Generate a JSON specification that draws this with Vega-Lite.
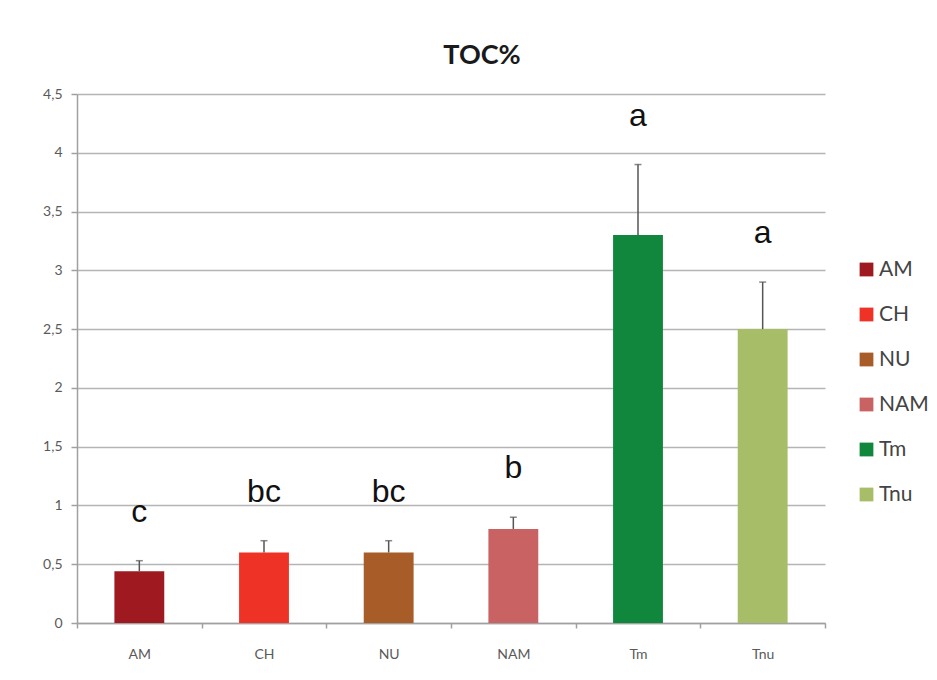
{
  "$schema": "https://vega.github.io/schema/vega-lite/v6.json",
  "width": 748,
  "height": 529,
  "autosize": {"type": "none"},
  "padding": {"left": 77, "top": 94, "right": 112, "bottom": 57},
  "background": "#ffffff",
  "title": {
    "text": "TOC%",
    "font": "Lato",
    "fontSize": 27,
    "fontWeight": "bold",
    "color": "#1a1a1a",
    "anchor": "middle",
    "frame": "group",
    "dx": 31,
    "offset": 17
  },
  "data": {
    "values": [
      {"treatment": "AM", "toc": 0.44, "upper": 0.53, "letter": "c"},
      {"treatment": "CH", "toc": 0.60, "upper": 0.70, "letter": "bc"},
      {"treatment": "NU", "toc": 0.60, "upper": 0.70, "letter": "bc"},
      {"treatment": "NAM", "toc": 0.80, "upper": 0.90, "letter": "b"},
      {"treatment": "Tm", "toc": 3.30, "upper": 3.90, "letter": "a"},
      {"treatment": "Tnu", "toc": 2.50, "upper": 2.90, "letter": "a"}
    ]
  },
  "encoding": {
    "x": {
      "field": "treatment",
      "type": "nominal",
      "sort": null,
      "scale": {"paddingInner": 0, "paddingOuter": 0},
      "axis": {
        "title": null,
        "labelAngle": 0,
        "labelFont": "Lato",
        "labelFontSize": 14,
        "labelColor": "#5a5a5a",
        "labelPadding": 19,
        "tickBand": "extent",
        "tickSize": 5,
        "tickColor": "#a0a0a0",
        "tickWidth": 1.5,
        "domainColor": "#a0a0a0",
        "domainWidth": 1.5,
        "grid": false
      }
    }
  },
  "layer": [
    {
      "mark": {"type": "bar", "width": {"band": 0.4}},
      "encoding": {
        "y": {
          "field": "toc",
          "type": "quantitative",
          "scale": {"domain": [0, 4.5], "nice": false},
          "axis": {
            "title": null,
            "values": [0, 0.5, 1, 1.5, 2, 2.5, 3, 3.5, 4, 4.5],
            "labelExpr": "replace(format(datum.value, '~g'), '.', ',')",
            "labelFont": "Lato",
            "labelFontSize": 14,
            "labelColor": "#5a5a5a",
            "labelPadding": 9,
            "tickSize": 6,
            "tickColor": "#a0a0a0",
            "tickWidth": 1.5,
            "domainColor": "#a0a0a0",
            "domainWidth": 1.5,
            "grid": true,
            "gridColor": "#b4b4b4",
            "gridWidth": 1.5
          }
        },
        "color": {
          "field": "treatment",
          "type": "nominal",
          "sort": null,
          "scale": {
            "domain": ["AM", "CH", "NU", "NAM", "Tm", "Tnu"],
            "range": ["#9e1a20", "#ee3226", "#a85c28", "#c96262", "#11873d", "#a7bd68"]
          },
          "legend": {
            "title": null,
            "orient": "none",
            "legendX": 779,
            "legendY": 165,
            "symbolType": "square",
            "symbolSize": 190,
            "symbolStrokeWidth": 0,
            "labelFont": "Lato",
            "labelFontSize": 21,
            "labelColor": "#444444",
            "labelOffset": 2,
            "rowPadding": 23,
            "padding": 0
          }
        }
      }
    },
    {
      "mark": {"type": "rule", "color": "#555555", "strokeWidth": 1.5},
      "encoding": {
        "y": {"field": "toc", "type": "quantitative"},
        "y2": {"field": "upper"}
      }
    },
    {
      "mark": {"type": "tick", "color": "#555555", "size": 7, "thickness": 1.5},
      "encoding": {
        "y": {"field": "upper", "type": "quantitative"}
      }
    },
    {
      "mark": {
        "type": "text",
        "font": "Liberation Sans",
        "fontSize": 32,
        "color": "#111111",
        "baseline": "alphabetic",
        "dy": -39
      },
      "encoding": {
        "y": {"field": "upper", "type": "quantitative"},
        "text": {"field": "letter"}
      }
    }
  ],
  "config": {
    "view": {"stroke": null}
  }
}
